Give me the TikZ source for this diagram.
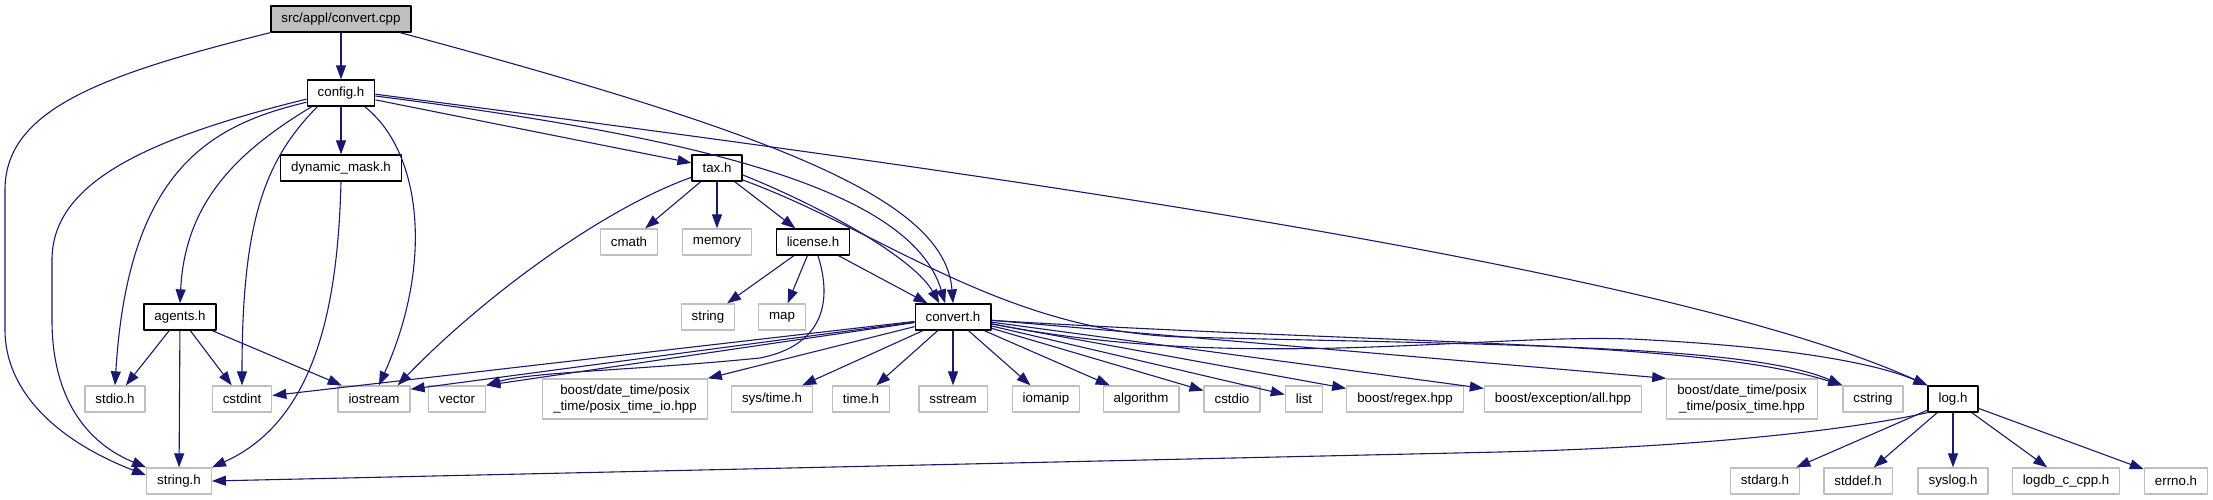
\documentclass[tikz,border=0pt]{standalone}
\usepackage{fontspec}
\setmainfont{Liberation Sans}
\usetikzlibrary{arrows.meta}
\definecolor{dx-edge}{HTML}{191970}
\definecolor{dx-grey}{HTML}{BFBFBF}

\tikzset{
  hfile/.style={draw=black, line width=1.3pt, fill=white, inner xsep=10.5pt, inner ysep=3pt,
    minimum height=26pt, font=\fontsize{13.3}{15.5}\selectfont},
  hroot/.style={hfile, fill=dx-grey},
  hsys/.style={hfile, draw=dx-grey, line width=1.3pt},
  hsystwo/.style={hsys, align=center, minimum height=40pt},
  incl/.style={->, draw=dx-edge, line width=1.1pt}
}

\begin{document}
\begin{tikzpicture}[x=1pt, y=-1pt, >={Triangle[length=14pt, width=10pt]}, line join=round]
  \useasboundingbox (0,0) rectangle (2213,500);
  % filer
  \node[hroot] (cpp) at (341,19) {src/appl/convert.cpp};
  \node[hfile] (config) at (341,93) {config.h};
  \node[hfile] (dynmask) at (341,168) {dynamic\_mask.h};
  \node[hfile] (tax) at (717,168) {tax.h};
  \node[hsys] (cmath) at (629,242) {cmath};
  \node[hsys] (memory) at (717,242) {memory};
  \node[hfile] (license) at (813,242) {license.h};
  \node[hfile] (agents) at (180,317) {agents.h};
  \node[hsys] (lstring) at (708,317) {string};
  \node[hsys] (map) at (782,317) {map};
  \node[hfile] (convh) at (953,317) {convert.h};
  % systemfiler
  \node[hsys] (stdio) at (115,399) {stdio.h};
  \node[hsys] (cstdint) at (242,399) {cstdint};
  \node[hsys] (iostream) at (374,399) {iostream};
  \node[hsys] (vector) at (457,399) {vector};
  \node[hsystwo] (posixio) at (625,399) {boost/date\_time/posix\\\_time/posix\_time\_io.hpp};
  \node[hsys] (systime) at (772,399) {sys/time.h};
  \node[hsys] (timeh) at (861,399) {time.h};
  \node[hsys] (sstream) at (953,399) {sstream};
  \node[hsys] (iomanip) at (1046,399) {iomanip};
  \node[hsys] (algo) at (1141,399) {algorithm};
  \node[hsys] (cstdio) at (1232,399) {cstdio};
  \node[hsys] (list) at (1304,399) {list};
  \node[hsys] (regex) at (1405,399) {boost/regex.hpp};
  \node[hsys] (exception) at (1563,399) {boost/exception/all.hpp};
  \node[hsystwo] (posixtime) at (1742,399) {boost/date\_time/posix\\\_time/posix\_time.hpp};
  \node[hsys] (cstring) at (1873,399) {cstring};
  \node[hfile] (log) at (1953,399) {log.h};
  \node[hsys] (strh) at (179,481) {string.h};
  \node[hsys] (stdarg) at (1765,481) {stdarg.h};
  \node[hsys] (stddef) at (1858,481) {stddef.h};
  \node[hsys] (syslog) at (1953,481) {syslog.h};
  \node[hsys] (logdb) at (2066,481) {logdb\_c\_cpp.h};
  \node[hsys] (errno) at (2176,481) {errno.h};
  % convert.cpp
  \draw[incl] (cpp) -- (config);
  \draw[incl] (cpp.south west) .. controls (100,75) and (5,110) .. (5,190) -- (5,330)
    .. controls (5,390) and (55,440) .. (strh.170);
  \draw[incl] (cpp.-13) .. controls (780,135) and (945,200) .. (convh.north);
  % config.h
  \draw[incl] (config) -- (dynmask);
  \draw[incl] (config) -- (tax);
  \draw[incl] (config.190) .. controls (140,140) and (52,185) .. (52,260) -- (52,320)
    .. controls (52,390) and (80,440) .. (strh.north west);
  \draw[incl] (config.195) .. controls (210,125) and (128,170) .. (stdio.north);
  \draw[incl] (config.-155) .. controls (240,150) and (185,200) .. (agents.north);
  \draw[incl] (config.-150) .. controls (265,160) and (242,220) .. (cstdint.north);
  \draw[incl] (config.-30) .. controls (420,150) and (435,260) .. (iostream.70);
  \draw[incl] (config.-5) .. controls (680,135) and (910,185) .. (convh.120);
  \draw[incl] (config.-2) .. controls (880,160) and (1650,260) .. (log.north west);
  % dynamic_mask.h
  \draw[incl] (dynmask.south) .. controls (338,300) and (318,420) .. (strh.north east);
  % agents.h
  \draw[incl] (agents) -- (stdio);
  \draw[incl] (agents) -- (strh);
  \draw[incl] (agents) -- (cstdint);
  \draw[incl] (agents) -- (iostream);
  % tax.h
  \draw[incl] (tax) -- (cmath);
  \draw[incl] (tax) -- (memory);
  \draw[incl] (tax) -- (license);
  \draw[incl] (tax.200) .. controls (600,210) and (480,300) .. (iostream.30);
  \draw[incl] (tax.-15) .. controls (830,210) and (915,260) .. (convh.135);
  \draw[incl] (tax.-25) .. controls (880,230) and (1000,330) .. (1180,337)
    .. controls (1500,345) and (1750,345) .. (cstring.north west);
  % license.h
  \draw[incl] (license) -- (lstring);
  \draw[incl] (license) -- (map);
  \draw[incl] (license) -- (convh);
  \draw[incl] (license.-70) .. controls (832,300) and (825,345) .. (760,358)
    .. controls (640,370) and (530,372) .. (vector.north east);
  % convert.h
  \draw[incl] (convh) -- (cstdint);
  \draw[incl] (convh) -- (iostream.15);
  \draw[incl] (convh) -- (vector.north east);
  \draw[incl] (convh) -- (posixio.north east);
  \draw[incl] (convh) -- (systime);
  \draw[incl] (convh) -- (timeh);
  \draw[incl] (convh) -- (sstream);
  \draw[incl] (convh) -- (iomanip);
  \draw[incl] (convh) -- (algo);
  \draw[incl] (convh) -- (cstdio);
  \draw[incl] (convh) -- (list);
  \draw[incl] (convh) -- (regex);
  \draw[incl] (convh) -- (exception);
  \draw[incl] (convh) -- (posixtime.north west);
  \draw[incl] (convh.-5) .. controls (1400,345) and (1700,340) .. (cstring.north west);
  \draw[incl] (convh.-10) .. controls (1250,375) and (1500,330) .. (1650,340)
    .. controls (1800,348) and (1880,365) .. (log.north west);
  % log.h
  \draw[incl] (log.south west) .. controls (1850,430) and (1700,447) .. (1500,452) -- (strh.east);
  \draw[incl] (log) -- (stdarg);
  \draw[incl] (log) -- (stddef);
  \draw[incl] (log) -- (syslog);
  \draw[incl] (log) -- (logdb);
  \draw[incl] (log) -- (errno);
\end{tikzpicture}
\end{document}
